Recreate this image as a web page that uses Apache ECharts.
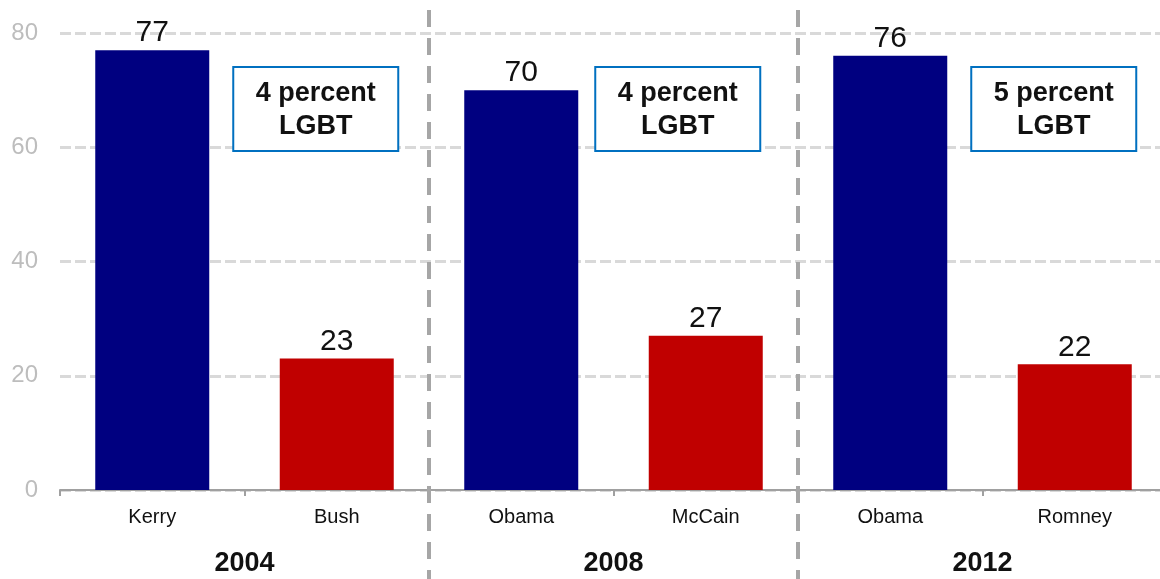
<!DOCTYPE html>
<html>
<head>
<meta charset="utf-8">
<script src="https://cdn.jsdelivr.net/npm/echarts@6/dist/echarts.min.js"></script>
<style>html,body{margin:0;padding:0;background:#fff;overflow:hidden;width:1160px;height:579px;}#c{width:1167px;height:579px;}</style>
</head>
<body>
<div id="c"></div>
<script>
const candidates = ['Kerry', 'Bush', 'Obama', 'McCain', 'Obama', 'Romney'];
const shares = [77, 23, 70, 27, 76, 22];
const parties = ['D', 'R', 'D', 'R', 'D', 'R'];
const years = ['2004', '2008', '2012'];
const lgbtNotes = ['4 percent\nLGBT', '4 percent\nLGBT', '5 percent\nLGBT'];
const yTicks = [0, 20, 40, 60, 80];

const partyColor = { D: '#000080', R: '#C00000' };
const FONT = '"Liberation Sans", Arial, sans-serif';

const chart = echarts.init(document.getElementById('c'));
const option = {
  animation: false,
  backgroundColor: '#ffffff',
  grid: { left: 60, top: 33, right: 0, bottom: 89, containLabel: false },
  xAxis: [
    {
      type: 'category',
      data: candidates,
      boundaryGap: true,
      axisLine: { show: true, lineStyle: { color: '#a0a0a0', width: 2 } },
      axisTick: { show: true, interval: 0, length: 6, lineStyle: { color: '#a0a0a0', width: 2 } },
      axisLabel: { interval: 0, color: '#111', fontSize: 20, fontFamily: FONT, margin: 17 },
      splitLine: { show: false }
    },
    {
      type: 'category',
      data: years,
      position: 'bottom',
      boundaryGap: true,
      axisLine: { show: false },
      axisTick: { show: false },
      axisLabel: { interval: 0, color: '#111', fontSize: 27, fontWeight: 'bold', fontFamily: FONT, margin: 60 },
      splitLine: { show: false }
    }
  ],
  yAxis: {
    type: 'value',
    min: yTicks[0],
    max: yTicks[yTicks.length - 1],
    interval: 20,
    axisLine: { show: false },
    axisTick: { show: false },
    axisLabel: { color: '#bdbdbd', fontSize: 24, fontFamily: FONT, margin: 22 },
    splitLine: { show: true, lineStyle: { color: '#d9d9d9', width: 3, type: [11, 4] } }
  },
  series: [{
    type: 'bar',
    xAxisIndex: 0,
    data: shares,
    barWidth: 114,
    itemStyle: {
      color: function (p) { return partyColor[parties[p.dataIndex]]; }
    },
    label: {
      show: true,
      position: 'top',
      distance: 2,
      color: '#111',
      fontSize: 30,
      fontFamily: FONT
    }
  }]
};
chart.setOption(option);

// separators between election years and annotation boxes
const graphics = [];
const half = (chart.convertToPixel({ xAxisIndex: 0 }, 1) - chart.convertToPixel({ xAxisIndex: 0 }, 0)) / 2;
for (let g = 1; g < years.length; g++) {
  const x = Math.round(chart.convertToPixel({ xAxisIndex: 0 }, g * 2 - 1) + half);
  graphics.push({
    type: 'line',
    shape: { x1: x, y1: 10, x2: x, y2: 579 },
    style: { stroke: '#a6a6a6', lineWidth: 4, lineDash: [17, 11] },
    z: 10
  });
}
const boxOffsets = [-21, -28, -21];
for (let g = 0; g < years.length; g++) {
  const cx = chart.convertToPixel({ xAxisIndex: 0 }, g * 2 + 1) + boxOffsets[g];
  const w = 165, h = 84, top = 67;
  graphics.push({
    type: 'rect',
    shape: { x: cx - w / 2, y: top, width: w, height: h },
    style: { fill: '#ffffff', stroke: '#0070C0', lineWidth: 2 },
    z: 20
  });
  graphics.push({
    type: 'text',
    x: cx,
    y: top + h / 2 + 1,
    style: {
      text: lgbtNotes[g],
      fill: '#111',
      font: 'bold 27px ' + FONT,
      align: 'center',
      verticalAlign: 'middle',
      lineHeight: 33
    },
    z: 21
  });
}
chart.setOption({ graphic: graphics });
</script>
</body>
</html>
